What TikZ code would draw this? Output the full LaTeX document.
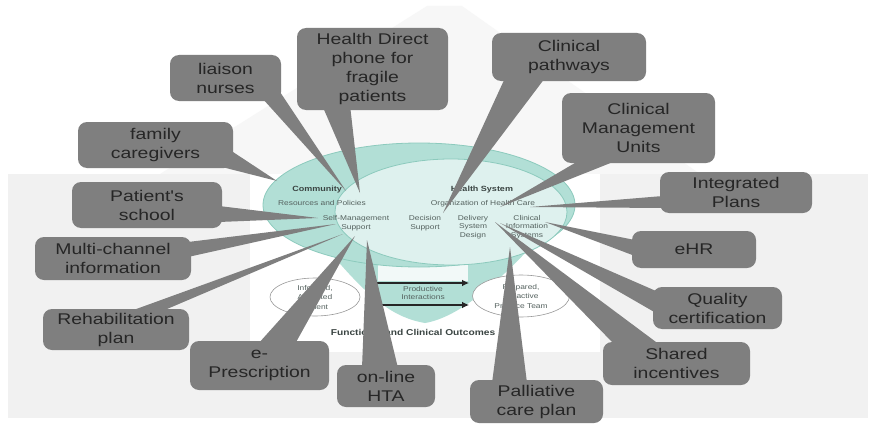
\documentclass[tikz,border=0pt]{standalone}
\usepackage{fontspec}
\setmainfont{Liberation Sans}
\newfontfamily\calloutfont{Liberation Sans}[FakeStretch=1.25]
\newfontfamily\modelfont{Liberation Sans}[FakeStretch=1.2]
\usetikzlibrary{arrows.meta,shapes.geometric,calc}

\definecolor{callgray}{HTML}{7F7F7F}
\definecolor{calltext}{HTML}{262626}
\definecolor{tealout}{HTML}{B2DFD6}
\definecolor{tealin}{HTML}{DEF1EE}
\definecolor{tealedge}{HTML}{8CCABD}
\definecolor{bggray}{HTML}{F1F1F1}
\definecolor{roofgray}{HTML}{F7F7F7}
\definecolor{modeltext}{HTML}{55625F}
\definecolor{modelhead}{HTML}{3A4442}

\pgfdeclarelayer{backdrop}
\pgfdeclarelayer{pointers}
\pgfsetlayers{backdrop,pointers,main}

\tikzset{
  callout/.style={fill=callgray, rounded corners=9pt, align=center,
    text=calltext, inner sep=0pt,
    font=\calloutfont\fontsize{15.5}{19}\selectfont},
  pointer/.style={fill=callgray},
  modeltxt/.style={align=center, text=modeltext, inner sep=0pt,
    font=\modelfont\fontsize{7}{8.5}\selectfont},
  modelhd/.style={align=center, text=modelhead, inner sep=0pt,
    font=\modelfont\bfseries\fontsize{7.5}{9}\selectfont},
  outcome/.style={ellipse, draw=black!40, line width=0.6pt, fill=white,
    inner sep=0pt, align=center, text=modeltext,
    font=\modelfont\fontsize{7}{9.5}\selectfont},
  interaction/.style={line width=1.8pt, draw=black!85,
    -{Latex[length=7pt,width=6.5pt]}}
}

\begin{document}
\begin{tikzpicture}[x=1pt,y=-1pt]
\useasboundingbox (0,0) rectangle (875,428);

\begin{pgfonlayer}{backdrop}
\fill[white] (0,0) rectangle (875,428);
% pale roof and the grey wall panel
\fill[roofgray] (160,174) -- (427,6) -- (462,6) -- (700,174) -- cycle;
\fill[bggray] (8,174) rectangle (868,418);
\fill[white] (250,174) rectangle (600,352);

% ---- chronic care model ----
% funnel under the ellipses
\fill[tealout] (330,252) .. controls (370,300) and (395,318) .. (425,323)
  .. controls (455,318) and (490,290) .. (528,250) -- cycle;
\fill[white!60!tealin] (378,264) rectangle (468,281);
% community and health system ellipses
\draw[tealedge, line width=0.8pt, fill=tealout] (419,205) ellipse [x radius=156, y radius=62];
\draw[tealedge, line width=0.8pt, fill=tealin] (451,212) ellipse [x radius=116, y radius=53];

\node[modelhd]  (community) at (317,190) {Community};
\node[modeltxt] (resources) at (322,203) {Resources and Policies};
\node[modeltxt] (selfmgmt)  at (356,223) {Self-Management\\Support};
\node[modelhd]  (hsystem)   at (482,190) {Health System};
\node[modeltxt] (orghc)     at (483,204) {Organization of Health Care};
\node[modeltxt] (decision)  at (425,223) {Decision\\Support};
\node[modeltxt] (delivery)  at (473,227) {Delivery\\System\\Design};
\node[modeltxt] (clinsys)   at (527,227) {Clinical\\Information\\Systems};

% patient and practice team
\node[outcome, minimum width=90, minimum height=38] (patient) at (315,297)
  {Informed,\\Activated\\Patient};
\node[outcome, minimum width=97, minimum height=42] (team) at (521,296)
  {Prepared,\\Proactive\\Practice Team};
\node[modeltxt] (productive) at (423,293) {Productive\\Interactions};
\draw[interaction] ($(patient.east)+(17,-14)$) -- ($(team.west)+(-3,-13)$);
\draw[interaction] ($(patient.east)+(20,8)$) -- ($(team.west)+(-3,9)$);
\node[modelhd, font=\modelfont\bfseries\fontsize{8.5}{10}\selectfont]
  (outcomes) at (413,332) {Functional and Clinical Outcomes};
\end{pgfonlayer}

% ---- callout boxes ----
\node[callout, minimum width=151, minimum height=82] (hd)  at (372.5,69)  {Health Direct\\phone for\\fragile\\patients};
\node[callout, minimum width=111, minimum height=46] (ln)  at (225.5,78)  {liaison\\nurses};
\node[callout, minimum width=155, minimum height=46] (fc)  at (155.5,145) {family\\caregivers};
\node[callout, minimum width=150, minimum height=46] (ps)  at (147,205)   {Patient's\\school};
\node[callout, minimum width=156, minimum height=43] (mc)  at (113,258.5) {Multi-channel\\information};
\node[callout, minimum width=146, minimum height=41] (rp)  at (116,329.5) {Rehabilitation\\plan};
\node[callout, minimum width=139, minimum height=49] (ep)  at (259.5,365.5) {e-\\Prescription};
\node[callout, minimum width=98,  minimum height=42] (oh)  at (386,386)   {on-line\\HTA};
\node[callout, minimum width=133, minimum height=43] (pc)  at (536.5,401.5) {Palliative\\care plan};
\node[callout, minimum width=147, minimum height=43] (si)  at (676.5,363.5) {Shared\\incentives};
\node[callout, minimum width=129, minimum height=42] (qc)  at (717.5,308) {Quality\\certification};
\node[callout, minimum width=124, minimum height=37] (ehr) at (694,249.5) {eHR};
\node[callout, minimum width=152, minimum height=41] (ip)  at (736,192.5) {Integrated\\Plans};
\node[callout, minimum width=153, minimum height=70] (cmu) at (638.5,128) {Clinical\\Management\\Units};
\node[callout, minimum width=154, minimum height=48] (cp)  at (569,57)   {Clinical\\pathways};

% pointer tips on the model
\coordinate (t-hd)  at (360,193);
\coordinate (t-ln)  at (346,191);
\coordinate (t-fc)  at (277,181);
\coordinate (t-ps)  at (318,218);
\coordinate (t-mc)  at (336,224);
\coordinate (t-rp)  at (343,234);
\coordinate (t-ep)  at (355,236);
\coordinate (t-oh)  at (367,240);
\coordinate (t-pc)  at (510,247);
\coordinate (t-si)  at (495,222);
\coordinate (t-qc)  at (500,223);
\coordinate (t-ehr) at (545,222);
\coordinate (t-ip)  at (530,207);
\coordinate (t-cmu) at (500,207);
\coordinate (t-cp)  at (443,213);

% ---- tapered pointers from each box to its tip ----
\begin{pgfonlayer}{pointers}
\fill[pointer] ($(hd)+(-50.5,36)$) -- (t-hd) -- ($(hd)+(-22.5,36)$) -- cycle;
\fill[pointer] ($(ln)+(36.5,20)$)  -- (t-ln) -- ($(ln)+(54.5,14)$) -- cycle;
\fill[pointer] ($(fc)+(74.5,5)$)   -- (t-fc) -- ($(fc)+(58.5,20)$) -- cycle;
\fill[pointer] ($(ps)+(72,1)$)     -- (t-ps) -- ($(ps)+(72,17)$) -- cycle;
\fill[pointer] ($(mc)+(75,-16.5)$) -- (t-mc) -- ($(mc)+(75,-1.5)$) -- cycle;
\fill[pointer] ($(rp)+(12,-17.5)$) -- (t-rp) -- ($(rp)+(44,-17.5)$) -- cycle;
\fill[pointer] ($(ep)+(-1.5,-21.5)$) -- (t-ep) -- ($(ep)+(35.5,-21.5)$) -- cycle;
\fill[pointer] ($(oh)+(-24,-18)$)  -- (t-oh) -- ($(oh)+(12,-18)$) -- cycle;
\fill[pointer] ($(pc)+(-44.5,-18.5)$) -- (t-pc) -- ($(pc)+(-9.5,-18.5)$) -- cycle;
\fill[pointer] ($(si)+(-61.5,-18.5)$) -- (t-si) -- ($(si)+(-16.5,-18.5)$) -- cycle;
\fill[pointer] ($(qc)+(-61.5,-17)$) -- (t-qc) -- ($(qc)+(-61.5,5)$) -- cycle;
\fill[pointer] ($(ehr)+(-59,-9.5)$) -- (t-ehr) -- ($(ehr)+(-59,6.5)$) -- cycle;
\fill[pointer] ($(ip)+(-73,3.5)$)  -- (t-ip) -- ($(ip)+(-73,15.5)$) -- cycle;
\fill[pointer] ($(cmu)+(-58.5,32)$) -- (t-cmu) -- ($(cmu)+(-20.5,32)$) -- cycle;
\fill[pointer] ($(cp)+(-64,21)$)   -- (t-cp) -- ($(cp)+(-24,21)$) -- cycle;
\end{pgfonlayer}
\end{tikzpicture}
\end{document}
